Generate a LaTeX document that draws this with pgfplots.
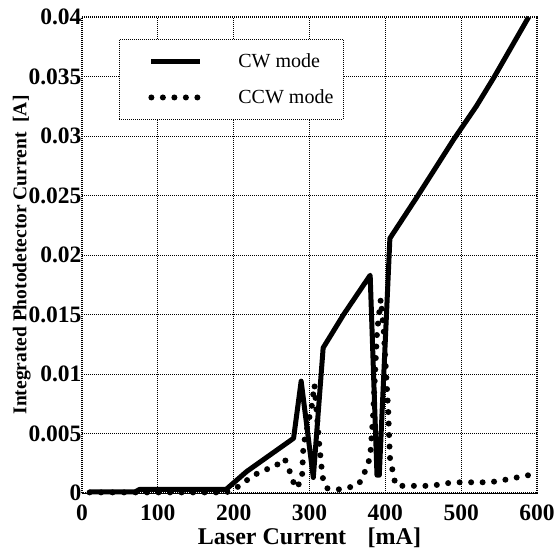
\documentclass[border=0pt]{standalone}
\usepackage{pgfplots}
\pgfplotsset{compat=1.18}
\usepackage{fontspec}
\setmainfont{Liberation Serif}
\begin{document}
\begin{tikzpicture}
\begin{axis}[
  scale only axis,
  width=455pt, height=476pt,
  xmin=0, xmax=600, ymin=0, ymax=0.04,
  xtick={0,100,200,300,400,500,600},
  ytick={0,0.005,0.01,0.015,0.02,0.025,0.03,0.035,0.04},
  yticklabels={0,0.005,0.01,0.015,0.02,0.025,0.03,0.035,0.04},
  scaled y ticks=false,
  /pgf/number format/assume math mode=true,
  tick label style={font=\bfseries\fontsize{23.5}{26}\selectfont},
  major tick length=0pt,
  xticklabel style={yshift=-8pt},
  yticklabel style={xshift=3pt},
  grid=major,
  major grid style={black, line width=1pt, dash pattern=on 1pt off 1pt},
  axis line style={black, line width=1.6pt, dash pattern=on 1.2pt off 0.8pt},
  xlabel={Laser Current\hspace{0.9em}[mA]},
  ylabel={Integrated Photodetector Current\hspace{0.5em}[A]},
  xlabel style={font=\bfseries\fontsize{24}{26}\selectfont, yshift=-1pt},
  ylabel style={font=\bfseries\fontsize{19.5}{22}\selectfont, yshift=-9pt},
  clip=false,
  legend style={at={(0.0813,0.9538)}, anchor=north west,
    draw=black, line width=0.8pt, dash pattern=on 1pt off 1pt,
    font=\fontsize{20}{23}\selectfont,
    nodes={font=\fontsize{20}{23}\selectfont},
    inner xsep=29pt, inner ysep=12pt,
    row sep=17pt,
    cells={anchor=west}},
  legend image code/.code={\draw[#1] (0pt,0pt) -- (49pt,0pt);},
]
\addplot[black, solid, line width=5pt, line join=round] coordinates {
 (10,0.0001) (70,0.0001) (76,0.0003) (190,0.0003) (217,0.0018)
 (279,0.0046) (289,0.0094) (305,0.0013) (318,0.0122) (345,0.0150)
 (380,0.0183) (389,0.0015) (392,0.0015) (406,0.0214) (442,0.0249)
 (490,0.0297) (520,0.0325) (543,0.0349) (589,0.0400)
};
\addlegendentry{\hspace{33pt}\makebox[74pt][l]{CW mode}}
\addplot[black, line width=6pt, line cap=round, dash pattern=on 0pt off 11.5pt] coordinates {
 (10,0.00005) (190,0.00005) (200,0.0003) (210,0.0007) (224,0.0014)
 (239,0.0019) (254,0.0022) (267,0.0029) (272,0.0022) (277,0.0012)
 (282,0.0004) (290,0.0011) (292,0.0040) (303,0.0073) (306.5,0.0091)
 (313,0.0040) (316,0.0021) (318,0.0011) (323,0.0004) (338,0.0003)
 (354,0.0005) (362,0.0006) (369,0.0011) (380,0.0030) (384,0.0067)
 (389,0.0135) (394,0.0163) (398,0.0135) (404,0.0067) (406,0.0030)
 (413,0.0008) (415,0.0006) (430,0.0006) (446,0.0006) (461,0.0006)
 (478,0.0008) (493,0.0009) (507,0.0009) (522,0.0009) (538,0.0009)
 (557,0.0011) (573,0.0013) (589,0.0015)
};
\addlegendentry{\hspace{33pt}\makebox[74pt][l]{CCW mode}}
\end{axis}
\pgfresetboundingbox
\path[use as bounding box] ([xshift=-82pt,yshift=-57pt]current axis.south west) rectangle ++(559pt,550pt);
\end{tikzpicture}
\end{document}
